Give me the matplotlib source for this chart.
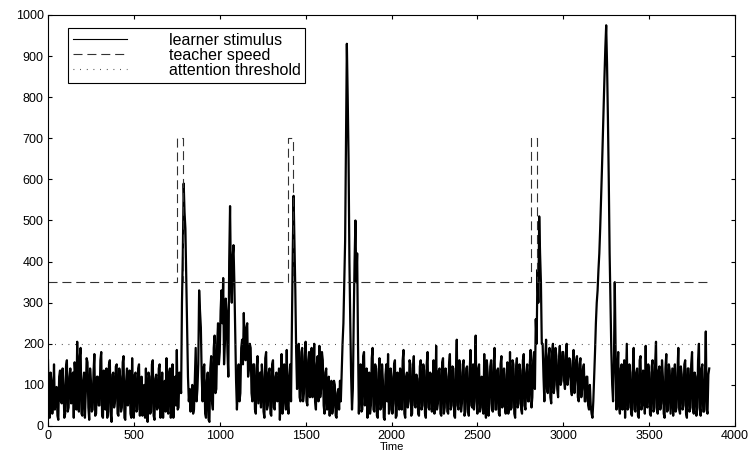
import numpy as np
import matplotlib
matplotlib.use("Agg")
import matplotlib.pyplot as plt

plt.rcParams['font.family'] = ['Liberation Sans', 'DejaVu Sans']
plt.rcParams['lines.scale_dashes'] = False

# learner stimulus, one value every 5 time steps
stim_step = 5
stimulus = [
    160, 40, 20, 130, 110, 30, 70, 150, 40, 85, 95, 25, 15, 120, 135, 60, 55, 140, 100, 20,
    30, 145, 160, 35, 45, 120, 140, 55, 90, 130, 20, 155, 125, 40, 205, 50, 35, 170, 190, 30,
    25, 110, 130, 20, 80, 165, 155, 45, 15, 140, 110, 35, 40, 130, 175, 25, 30, 120, 120, 50,
    50, 160, 180, 25, 20, 135, 100, 40, 140, 20, 35, 150, 160, 30, 10, 125, 130, 45, 60, 145,
    150, 30, 25, 140, 120, 35, 45, 155, 170, 20, 15, 110, 140, 50, 80, 135, 30, 20, 165, 45,
    20, 125, 130, 35, 40, 140, 150, 25, 85, 120, 25, 60, 100, 20, 140, 55, 10, 130, 120, 30,
    35, 150, 160, 25, 15, 115, 125, 40, 45, 140, 150, 20, 70, 130, 20, 100, 110, 35, 165, 45,
    30, 130, 140, 20, 60, 150, 20, 95, 120, 50, 185, 40, 45, 130, 110, 80, 300, 420, 590, 520,
    480, 360, 250, 120, 60, 90, 35, 75, 100, 30, 40, 120, 190, 60, 90, 150, 330, 280, 240, 120,
    60, 140, 150, 30, 20, 110, 130, 15, 10, 140, 170, 60, 40, 190, 220, 80, 90, 200, 250, 150,
    180, 280, 330, 250, 360, 150, 200, 310, 280, 180, 120, 400, 535, 350, 300, 410, 440, 350, 230, 110,
    40, 90, 150, 60, 80, 190, 210, 150, 275, 190, 160, 240, 250, 120, 140, 200, 190, 80, 60, 150,
    150, 40, 30, 140, 170, 55, 95, 130, 45, 150, 120, 35, 20, 165, 180, 40, 50, 130, 140, 30,
    25, 150, 160, 45, 40, 120, 130, 60, 70, 140, 15, 80, 175, 30, 55, 150, 120, 40, 185, 60,
    30, 120, 150, 60, 250, 420, 560, 450, 330, 180, 90, 160, 200, 70, 60, 180, 190, 60, 80, 170,
    205, 60, 50, 160, 180, 70, 120, 190, 70, 120, 200, 60, 40, 150, 170, 60, 195, 70, 90, 180,
    160, 50, 30, 130, 140, 40, 60, 120, 25, 90, 110, 30, 45, 110, 100, 25, 20, 80, 90, 40,
    110, 60, 130, 200, 250, 350, 450, 700, 930, 800, 650, 400, 250, 120, 40, 90, 260, 400, 500, 350,
    420, 200, 30, 120, 150, 35, 40, 170, 180, 50, 90, 140, 20, 110, 130, 30, 50, 165, 190, 40,
    35, 150, 140, 25, 20, 130, 165, 40, 45, 150, 110, 20, 15, 125, 150, 60, 175, 30, 40, 140,
    120, 30, 55, 150, 160, 20, 25, 130, 90, 40, 140, 55, 40, 160, 185, 30, 20, 120, 130, 45,
    60, 160, 150, 25, 30, 140, 170, 50, 45, 125, 115, 30, 25, 145, 160, 40, 50, 150, 135, 30,
    20, 150, 180, 45, 40, 130, 125, 35, 80, 160, 30, 50, 195, 40, 55, 135, 140, 30, 25, 155,
    165, 30, 45, 140, 120, 35, 30, 150, 175, 40, 50, 145, 140, 25, 20, 130, 210, 50, 40, 160,
    130, 35, 55, 150, 160, 25, 35, 140, 145, 40, 25, 130, 185, 50, 45, 150, 40, 120, 220, 60,
    30, 140, 150, 35, 45, 120, 100, 30, 175, 50, 20, 160, 130, 25, 55, 145, 160, 40, 35, 150,
    190, 40, 40, 135, 140, 30, 25, 150, 170, 45, 80, 140, 50, 30, 125, 155, 30, 50, 180, 40,
    45, 160, 150, 30, 20, 140, 165, 45, 55, 150, 135, 40, 30, 160, 175, 50, 40, 130, 150, 60,
    60, 150, 185, 45, 70, 160, 180, 90, 260, 200, 380, 300, 510, 420, 350, 200, 200, 120, 60, 160,
    210, 90, 80, 170, 190, 70, 55, 180, 200, 80, 100, 190, 170, 90, 70, 160, 195, 100, 110, 180,
    180, 110, 90, 170, 200, 100, 120, 165, 160, 90, 75, 150, 185, 80, 110, 160, 170, 70, 60, 150,
    165, 70, 90, 140, 150, 60, 60, 120, 120, 50, 40, 100, 50, 30, 20, 60, 120, 180, 250, 300,
    330, 380, 420, 480, 550, 620, 700, 780, 850, 920, 975, 880, 750, 600, 420, 300, 180, 100, 60, 150,
    350, 180, 40, 120, 180, 50, 30, 140, 150, 40, 90, 160, 20, 110, 200, 40, 45, 150, 130, 30,
    25, 140, 190, 40, 35, 130, 140, 25, 20, 160, 170, 40, 50, 135, 120, 30, 195, 50, 45, 150,
    130, 30, 25, 145, 160, 35, 40, 150, 205, 45, 30, 135, 145, 40, 55, 160, 120, 30, 20, 140,
    175, 35, 40, 150, 135, 30, 85, 140, 25, 110, 150, 35, 45, 130, 190, 40, 30, 145, 125, 40,
    50, 150, 160, 30, 20, 140, 140, 35, 45, 150, 180, 40, 30, 130, 120, 25, 40, 160, 200, 45,
    25, 140, 150, 35, 35, 120, 230, 40, 30, 125, 140,
]
stim_time = np.arange(len(stimulus)) * stim_step

# teacher speed: change points and level held after each
speed_times = [0, 750, 787, 1395, 1426, 2810, 2850, 3850]
speed_vals = [350, 700, 350, 700, 350, 700, 350, 350]

threshold = 200
threshold_span = [0, 3850]

fig = plt.figure(figsize=(7.52, 4.55), dpi=100)
ax = fig.add_axes([48/752, 29/455, 687/752, 411/455])

ax.plot(stim_time, stimulus, color='black', lw=1.6, label='learner stimulus')
ax.step(speed_times, speed_vals, where='post', color='#333333', lw=0.8,
        linestyle=(0, (6.5, 3.5)), label='teacher speed')
ax.plot(threshold_span, [threshold, threshold], color='#333333', lw=0.8,
        linestyle=(0, (0.6, 4.2)), label='attention threshold')

ax.set_xlim(0, 4000)
ax.set_ylim(0, 1000)
ax.set_xticks(np.arange(0, 4001, 500))
ax.set_yticks(np.arange(0, 1001, 100))
ax.tick_params(direction='in', length=3, width=0.8, top=True, right=True,
               labelsize=9, pad=3)
for s in ax.spines.values():
    s.set_linewidth(0.8)
ax.set_xlabel('Time', fontsize=8, labelpad=0)

leg = ax.legend(loc='upper left', bbox_to_anchor=(68/752, 1 - 28/455),
                bbox_transform=fig.transFigure, fontsize=11.5, frameon=True,
                fancybox=False, framealpha=1, edgecolor='black',
                handlelength=3.4, handletextpad=2.6, labelspacing=0.0,
                borderpad=0.3, borderaxespad=0)
leg.legend_handles[0].set_linewidth(0.8)
leg.get_frame().set_linewidth(0.8)

fig.savefig('out.png', dpi=100)
